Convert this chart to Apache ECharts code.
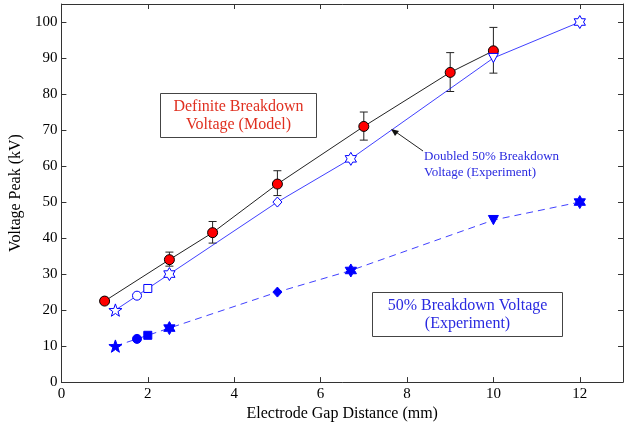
<!DOCTYPE html>
<html>
<head>
<meta charset="utf-8">
<script src="https://cdn.jsdelivr.net/npm/echarts@6/dist/echarts.min.js"></script>
<style>
  html, body { margin: 0; padding: 0; background: #fff; }
  #main { width: 628px; height: 427px; }
</style>
</head>
<body>
<div id="main"></div>
<script>
// gap distance (mm) / voltage peak (kV)
var modelX = [1, 2.5, 3.5, 5, 7, 9, 10];
var modelY = [22.5, 34, 41.5, 55, 71, 86, 92];
var modelLow = [21.8, 32.2, 38.6, 51.8, 67.2, 80.7, 85.8];
var modelHigh = [23.3, 36.1, 44.6, 58.7, 75, 91.5, 98.5];

var expX = [1.25, 1.75, 2, 2.5, 5, 6.7, 10, 12];
var doubledY = [20, 24, 26, 30, 50, 62, 90, 100];
var halfY = [10, 12, 13, 15, 25, 31, 45, 50];
var expMarkers = ['star', 'circle', 'square', 'hexagram', 'diamond', 'hexagram', 'down', 'hexagram'];

var xTicks = [0, 2, 4, 6, 8, 10, 12];
var yTicks = [0, 10, 20, 30, 40, 50, 60, 70, 80, 90, 100];

var SYM = {
  star: 'path://M0,-10 L2.35,-3.24 L9.51,-3.09 L3.8,1.24 L5.88,8.09 L0,4 L-5.88,8.09 L-3.8,1.24 L-9.51,-3.09 L-2.35,-3.24 Z',
  hexagram: 'path://M0,-10 L2.89,-5 L8.66,-5 L5.77,0 L8.66,5 L2.89,5 L0,10 L-2.89,5 L-8.66,5 L-5.77,0 L-8.66,-5 L-2.89,-5 Z',
  circle: 'circle',
  square: 'rect',
  diamond: 'path://M0,-10 L9,0 L0,10 L-9,0 Z',
  down: 'path://M-6,-5 L6,-5 L0,6 Z'
};
var SIZE = { star: 13, hexagram: 13, circle: 9, square: 8, diamond: 10, down: 10 };

function pts(xs, ys) {
  var out = [];
  for (var i = 0; i < xs.length; i++) out.push([xs[i], ys[i]]);
  return out;
}
function markerPts(xs, ys) {
  var out = [];
  for (var i = 0; i < xs.length; i++) {
    var m = expMarkers[i];
    out.push({ value: [xs[i], ys[i]], symbol: SYM[m], symbolSize: SIZE[m] });
  }
  return out;
}
var errData = [];
for (var i = 0; i < modelX.length; i++) errData.push([modelX[i], modelLow[i], modelHigh[i]]);

var serif = '"Liberation Serif", "DejaVu Serif", serif';
var blue = '#0000ff';
var frame = '#333';

function fmt(list) {
  return function (v) { return list.indexOf(v) >= 0 ? String(v) : ''; };
}

var myChart = echarts.init(document.getElementById('main'));
var option = {
  backgroundColor: '#fff',
  animation: false,
  grid: { left: 58, right: 5, top: 4, bottom: 44 },
  xAxis: [{
    type: 'value', min: 0, max: 13, interval: 2,
    name: 'Electrode Gap Distance (mm)', nameLocation: 'middle', nameGap: 17,
    nameTextStyle: { fontFamily: serif, fontSize: 16, color: '#000' },
    axisLine: { show: true, onZero: false, lineStyle: { color: frame } },
    axisTick: { inside: true, length: 5, lineStyle: { color: frame } },
    axisLabel: { fontFamily: serif, fontSize: 15, color: '#000', margin: 4, showMaxLabel: false, formatter: fmt(xTicks) },
    splitLine: { show: false }
  }, {
    type: 'value', position: 'top', min: 0, max: 13, interval: 2,
    axisLine: { show: true, onZero: false, lineStyle: { color: frame } },
    axisTick: { inside: true, length: 5, lineStyle: { color: frame } },
    axisLabel: { show: false }, splitLine: { show: false }
  }],
  yAxis: [{
    type: 'value', min: 0, max: 105, interval: 10,
    name: 'Voltage Peak (kV)', nameLocation: 'middle', nameGap: 33,
    nameTextStyle: { fontFamily: serif, fontSize: 16, color: '#000' },
    axisLine: { show: true, onZero: false, lineStyle: { color: frame } },
    axisTick: { inside: true, length: 5, lineStyle: { color: frame } },
    axisLabel: { fontFamily: serif, fontSize: 15, color: '#000', margin: 4, showMaxLabel: false, formatter: fmt(yTicks) },
    splitLine: { show: false }
  }, {
    type: 'value', position: 'right', min: 0, max: 105, interval: 10,
    axisLine: { show: true, onZero: false, lineStyle: { color: frame } },
    axisTick: { inside: true, length: 5, lineStyle: { color: frame } },
    axisLabel: { show: false }, splitLine: { show: false }
  }],
  series: [{
    // error bars of the model
    type: 'custom', z: 2,
    data: errData,
    renderItem: function (params, api) {
      var x = api.value(0);
      var lo = api.coord([x, api.value(1)]);
      var hi = api.coord([x, api.value(2)]);
      var w = 4;
      var st = { stroke: '#222', lineWidth: 1 };
      return {
        type: 'group', children: [
          { type: 'line', shape: { x1: hi[0], y1: hi[1], x2: lo[0], y2: lo[1] }, style: st },
          { type: 'line', shape: { x1: hi[0] - w, y1: hi[1], x2: hi[0] + w, y2: hi[1] }, style: st },
          { type: 'line', shape: { x1: lo[0] - w, y1: lo[1], x2: lo[0] + w, y2: lo[1] }, style: st }
        ]
      };
    }
  }, {
    name: 'Definite Breakdown Voltage (Model)',
    type: 'line', z: 3,
    data: pts(modelX, modelY),
    symbol: 'circle', symbolSize: 10,
    lineStyle: { color: '#222', width: 1 },
    itemStyle: { color: '#ff0000', borderColor: '#000', borderWidth: 1 }
  }, {
    name: 'Doubled 50% Breakdown Voltage (Experiment)',
    type: 'line', z: 3,
    data: markerPts(expX, doubledY),
    symbolKeepAspect: true,
    lineStyle: { color: blue, width: 1, opacity: 0.75 },
    itemStyle: { color: '#fff', borderColor: blue, borderWidth: 1 }
  }, {
    name: '50% Breakdown Voltage (Experiment)',
    type: 'line', z: 3,
    data: markerPts(expX, halfY),
    symbolKeepAspect: true,
    lineStyle: { color: blue, width: 1, type: [7, 5], opacity: 0.75 },
    itemStyle: { color: blue, borderColor: blue, borderWidth: 1 }
  }],
  graphic: [{
    type: 'group', left: 160, top: 93, z: 10,
    children: [
      { type: 'rect', shape: { x: 0, y: 0, width: 156, height: 44 }, style: { fill: '#fff', stroke: '#444', lineWidth: 1 } },
      { type: 'text', x: 78, y: 22, style: { text: 'Definite Breakdown\nVoltage (Model)', fill: '#e03020', font: '16px ' + serif, align: 'center', verticalAlign: 'middle', lineHeight: 18 } }
    ]
  }, {
    type: 'group', left: 372, top: 292, z: 10,
    children: [
      { type: 'rect', shape: { x: 0, y: 0, width: 190, height: 44 }, style: { fill: '#fff', stroke: '#444', lineWidth: 1 } },
      { type: 'text', x: 95, y: 22, style: { text: '50% Breakdown Voltage\n(Experiment)', fill: '#2a2ae0', font: '16px ' + serif, align: 'center', verticalAlign: 'middle', lineHeight: 18 } }
    ]
  }, {
    type: 'text', left: 424, top: 149, z: 10,
    style: { text: 'Doubled 50% Breakdown\nVoltage (Experiment)', fill: '#2a2ae0', font: '13px ' + serif, lineHeight: 16 }
  }, {
    type: 'line', z: 10,
    shape: { x1: 423, y1: 151, x2: 393, y2: 130 },
    style: { stroke: '#222', lineWidth: 1 }
  }, {
    type: 'polygon', z: 10,
    shape: { points: [[391, 129], [399, 131], [395, 136]] },
    style: { fill: '#111' }
  }]
};
myChart.setOption(option);
</script>
</body>
</html>
